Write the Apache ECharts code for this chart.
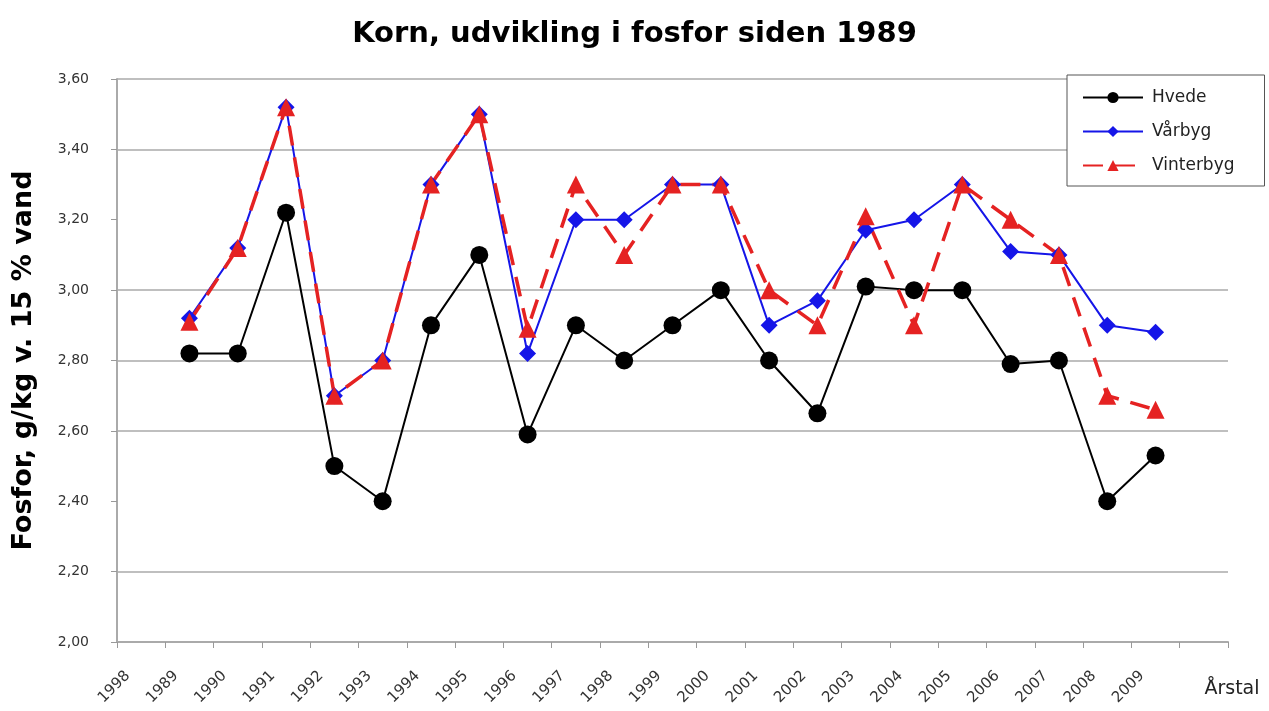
<!DOCTYPE html>
<html>
<head>
<meta charset="utf-8">
<title>Korn, udvikling i fosfor siden 1989</title>
<script src="https://cdn.jsdelivr.net/npm/echarts@6/dist/echarts.min.js"></script>
<style>
  html, body { margin: 0; padding: 0; background: #fff; }
  #chart { width: 1269px; height: 711px; }
</style>
</head>
<body>
<div id="chart"></div>
<script>
// category labels as printed on the x axis (first one reads 1998 in the original)
var tickLabels = ['1998', '1989', '1990', '1991', '1992', '1993', '1994', '1995', '1996', '1997', '1998',
    '1999', '2000', '2001', '2002', '2003', '2004', '2005', '2006', '2007', '2008', '2009', ''];

// values 1989..2009, g/kg
var hvede = [2.82, 2.82, 3.22, 2.50, 2.40, 2.90, 3.10, 2.59, 2.90, 2.80, 2.90,
    3.00, 2.80, 2.65, 3.01, 3.00, 3.00, 2.79, 2.80, 2.40, 2.53];
var vaarbyg = [2.92, 3.12, 3.52, 2.70, 2.80, 3.30, 3.50, 2.82, 3.20, 3.20, 3.30,
    3.30, 2.90, 2.97, 3.17, 3.20, 3.30, 3.11, 3.10, 2.90, 2.88];
var vinterbyg = [2.91, 3.12, 3.52, 2.70, 2.80, 3.30, 3.50, 2.89, 3.30, 3.10, 3.30,
    3.30, 3.00, 2.90, 3.21, 2.90, 3.30, 3.20, 3.10, 2.70, 2.66];

// first category has no data
function pad(arr) { return [null].concat(arr); }

var chart = echarts.init(document.getElementById('chart'));

var option = {
    animation: false,
    backgroundColor: '#fff',
    title: {
        text: 'Korn, udvikling i fosfor siden 1989',
        left: 'center',
        top: 15,
        textStyle: { fontFamily: 'DejaVu Sans', fontWeight: 'bold', fontSize: 29, color: '#000' }
    },
    legend: {
        orient: 'vertical',
        left: 1067,
        top: 75,
        padding: [14, 30, 12, 15],
        itemGap: 17,
        itemWidth: 60,
        itemHeight: 14,
        borderColor: '#555',
        borderWidth: 1,
        backgroundColor: '#fff',
        textStyle: { fontFamily: 'DejaVu Sans', fontSize: 17, color: '#222', padding: [0, 0, 0, 4] },
        data: ['Hvede', 'Vårbyg', 'Vinterbyg']
    },
    grid: { left: 117, right: 41, top: 79, bottom: 69 },
    xAxis: {
        type: 'category',
        data: tickLabels,
        boundaryGap: true,
        name: 'Årstal',
        nameLocation: 'end',
        nameGap: 4,
        nameTextStyle: {
            fontFamily: 'DejaVu Sans', fontSize: 19, color: '#222',
            align: 'center', verticalAlign: 'top', padding: [38, 0, 0, 0]
        },
        axisLine: { lineStyle: { color: '#aaa', width: 2 } },
        axisTick: { show: true, length: 6, lineStyle: { color: '#999' } },
        axisLabel: {
            rotate: 45,
            interval: 0,
            margin: 18,
            padding: [0, 19, 0, 0],
            fontFamily: 'DejaVu Sans',
            fontSize: 15,
            color: '#333'
        }
    },
    yAxis: {
        type: 'value',
        min: 2,
        max: 3.6,
        interval: 0.2,
        name: 'Fosfor, g/kg v. 15 % vand',
        nameLocation: 'middle',
        nameGap: 80,
        nameTextStyle: { fontFamily: 'DejaVu Sans', fontWeight: 'bold', fontSize: 27, color: '#000', padding: [0, 0, 0, 0] },
        axisLine: { show: true, lineStyle: { color: '#aaa', width: 2 } },
        axisTick: { show: true, length: 6, lineStyle: { color: '#999' } },
        axisLabel: {
            margin: 28,
            fontFamily: 'DejaVu Sans',
            fontSize: 14,
            color: '#333',
            formatter: function (v) { return v.toFixed(2).replace('.', ','); }
        },
        splitLine: {
            lineStyle: {
                color: ['#aaa', '#aaa', 'rgba(0,0,0,0)', '#aaa', '#aaa', '#aaa', 'rgba(0,0,0,0)', '#aaa', '#aaa'],
                width: 1.5
            }
        }
    },
    series: [
        {
            name: 'Hvede',
            type: 'line',
            data: pad(hvede),
            symbol: 'circle',
            symbolSize: 18,
            color: '#000',
            lineStyle: { color: '#000', width: 2 },
            itemStyle: { color: '#000' }
        },
        {
            name: 'Vårbyg',
            type: 'line',
            data: pad(vaarbyg),
            symbol: 'diamond',
            symbolSize: 17,
            color: '#1515e8',
            lineStyle: { color: '#1515e8', width: 2 },
            itemStyle: { color: '#1515e8' }
        },
        {
            name: 'Vinterbyg',
            type: 'line',
            data: pad(vinterbyg),
            symbol: 'triangle',
            symbolSize: 18,
            color: '#e52222',
            lineStyle: { color: '#e52222', width: 3.5, type: [20, 12] },
            itemStyle: { color: '#e52222' }
        }
    ]
};

chart.setOption(option);
</script>
</body>
</html>
